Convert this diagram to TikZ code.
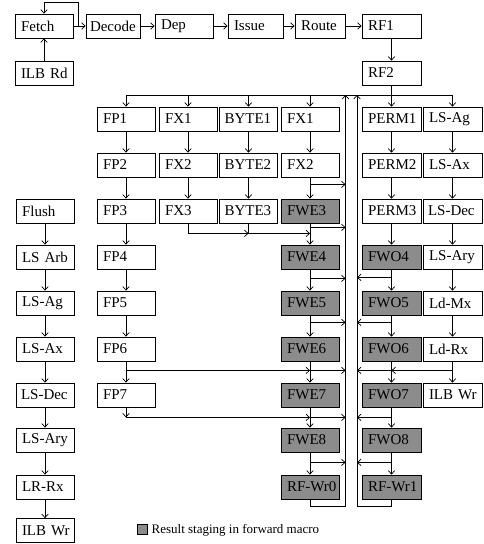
\documentclass[tikz,border=0pt]{standalone}
\usepackage{fontspec}
\setmainfont{Liberation Serif}
\usetikzlibrary{arrows.meta,calc}
\begin{document}
\begin{tikzpicture}[x=1pt,y=-1pt,
  blk/.style={draw, line width=0.8pt, minimum height=24pt, inner xsep=6pt, inner ysep=0pt,
    text width=#1, align=left, font=\fontsize{15}{17}\selectfont,
    execute at begin node={\hbox\bgroup}, execute at end node={\egroup}},
  blk/.default=46pt,
  fwd/.style={blk=#1, fill=black!45},
  fwd/.default=46pt,
  ar/.style={-{Straight Barb[length=3.5pt,width=6.5pt]}, line width=0.7pt},
  ln/.style={line width=0.7pt}]
\useasboundingbox (0,0) rectangle (483,544);

% top rows
\node[blk] (fetch) at (44,26) {Fetch};
\node[blk=46pt, inner xsep=4pt] (decode) at (113,26) {Decode};
\node[blk] (dep) at (184,26) {Dep};
\node[blk=43pt] (issue) at (255.5,26) {Issue};
\node[blk=38pt] (route) at (320,26) {Route};
\node[blk=47pt] (rf1) at (391.5,26) {RF1};
\node[blk] (ilbrd) at (44,73) {ILB Rd};
\node[blk=47pt] (rf2) at (391.5,73) {RF2};

% row 2
\node[blk] (fp1) at (126,119) {FP1};
\node[blk] (fx1) at (188,119) {FX1};
\node[blk, inner xsep=5pt, text width=48pt] (byte1) at (248.5,119) {BYTE1};
\node[blk] (fxb1) at (310,119) {FX1};
\node[blk=47pt] (perm1) at (391.5,119) {PERM1};
\node[blk=47pt] (lsag) at (452.5,119) {LS-Ag};
% row 3
\node[blk] (fp2) at (126,165) {FP2};
\node[blk] (fx2) at (188,165) {FX2};
\node[blk, inner xsep=5pt, text width=48pt] (byte2) at (248.5,165) {BYTE2};
\node[blk] (fxb2) at (310,165) {FX2};
\node[blk=47pt] (perm2) at (391.5,165) {PERM2};
\node[blk=47pt] (lsax) at (452.5,165) {LS-Ax};
% row 4
\node[blk] (flush) at (45,211) {Flush};
\node[blk] (fp3) at (126,211) {FP3};
\node[blk] (fx3) at (188,211) {FX3};
\node[blk, inner xsep=5pt, text width=48pt] (byte3) at (248.5,211) {BYTE3};
\node[fwd] (fwe3) at (310,211) {FWE3};
\node[blk=47pt] (perm3) at (391.5,211) {PERM3};
\node[blk=47pt, inner xsep=5pt, text width=49pt] (lsdec) at (452.5,211) {LS-Dec};
% row 5
\node[blk] (lsarb) at (45,257) {LS Arb};
\node[blk] (fp4) at (126,257) {FP4};
\node[fwd] (fwe4) at (310,257) {FWE4};
\node[fwd=47pt] (fwo4) at (391.5,257) {FWO4};
\node[blk=47pt] (lsary) at (452.5,257) {LS-Ary};
% row 6
\node[blk] (lsagL) at (45,303) {LS-Ag};
\node[blk] (fp5) at (126,303) {FP5};
\node[fwd] (fwe5) at (310,303) {FWE5};
\node[fwd=47pt] (fwo5) at (391.5,303) {FWO5};
\node[blk=47pt] (ldmx) at (452.5,303) {Ld-Mx};
% row 7
\node[blk] (lsaxL) at (45,349) {LS-Ax};
\node[blk] (fp6) at (126,349) {FP6};
\node[fwd] (fwe6) at (310,349) {FWE6};
\node[fwd=47pt] (fwo6) at (391.5,349) {FWO6};
\node[blk=47pt] (ldrx) at (452.5,349) {Ld-Rx};
% row 8
\node[blk, inner xsep=5pt, text width=48pt] (lsdecL) at (45,395) {LS-Dec};
\node[blk] (fp7) at (126,395) {FP7};
\node[fwd] (fwe7) at (310,395) {FWE7};
\node[fwd=47pt] (fwo7) at (391.5,395) {FWO7};
\node[blk=47pt] (ilbwr) at (452.5,395) {ILB Wr};
% row 9
\node[blk] (lsaryL) at (45,440) {LS-Ary};
\node[fwd] (fwe8) at (310,440) {FWE8};
\node[fwd=47pt] (fwo8) at (391.5,440) {FWO8};
% row 10
\node[blk] (lrrx) at (45,487) {LR-Rx};
\node[fwd] (rfwr0) at (310,487) {RF-Wr0};
\node[fwd=47pt] (rfwr1) at (391.5,487) {RF-Wr1};
% row 11
\node[blk] (ilbwrL) at (45,530.5) {ILB Wr};

% legend
\node[draw, fill=black!45, line width=0.6pt, minimum size=10.5pt, inner sep=0pt] (legbox) at (142.5,529.5) {};
\node[anchor=west, inner xsep=3pt, font=\fontsize{13}{15}\selectfont] (legtxt) at (148.5,530) {Result staging in forward macro};

% helper coordinates
\coordinate (bus) at (0,95);
\coordinate (bot) at (0,506);
\coordinate (xL) at (345.5,0);
\coordinate (xR) at (357,0);

% top chain
\coordinate (lp) at (78,26);
\coordinate (lptop) at (78,2.5);
\draw[ar] (fetch) -- (decode);
\draw[ar] (lp) -- (lptop) -| (fetch.north);
\draw[ar] (ilbrd) -- (fetch);
\draw[ar] (decode) -- (dep);
\draw[ar] (dep) -- (issue);
\draw[ar] (issue) -- (route);
\draw[ar] (route) -- (rf1);
\draw[ar] (rf1) -- (rf2);
\draw[ar] (rf2) -- (perm1);

% distribution bus
\draw[ln] (fp1.north |- bus) -- (lsag.north |- bus);
\foreach \n in {fp1,fx1,byte1,fxb1,lsag}
  \draw[ar] (\n.north |- bus) -- (\n.north);

% column chains
\foreach \a/\b in {fp1/fp2,fp2/fp3,fp3/fp4,fp4/fp5,fp5/fp6,fp6/fp7,
  fx1/fx2,fx2/fx3,byte1/byte2,byte2/byte3,
  fxb1/fxb2,fxb2/fwe3,fwe3/fwe4,fwe4/fwe5,fwe5/fwe6,fwe6/fwe7,fwe7/fwe8,fwe8/rfwr0,
  perm1/perm2,perm2/perm3,perm3/fwo4,fwo4/fwo5,fwo5/fwo6,fwo6/fwo7,fwo7/fwo8,fwo8/rfwr1,
  lsag/lsax,lsax/lsdec,lsdec/lsary,lsary/ldmx,ldmx/ldrx,ldrx/ilbwr,
  flush/lsarb,lsarb/lsagL,lsagL/lsaxL,lsaxL/lsdecL,lsdecL/lsaryL,lsaryL/lrrx,lrrx/ilbwrL}
  \draw[ar] (\a) -- (\b);

% forward outputs, even side
\coordinate (e2) at ($(fxb2.south)+(0,7)$);
\coordinate (e3) at ($(fwe3.south)+(0,4)$);
\coordinate (e4) at ($(fwe4.south)+(0,9)$);
\coordinate (e5) at ($(fwe5.south)+(0,7)$);
\coordinate (e6) at ($(fwe6.south)+(0,9)$);
\coordinate (e7) at ($(fwe7.south)+(0,10)$);
\coordinate (e8) at ($(fwe8.south)+(0,10)$);
\foreach \c in {e2,e3,e4,e5,e6,e7,e8}
  \draw[ar] (\c) -- (\c -| xL);

% forward outputs, odd side
\coordinate (o4) at ($(fwo4.south)+(0,8)$);
\coordinate (o5) at ($(fwo5.south)+(0,7)$);
\coordinate (o6) at ($(fwo6.south)+(0,9)$);
\coordinate (o7) at ($(fwo7.south)+(0,10)$);
\coordinate (o8) at ($(fwo8.south)+(0,10)$);
\foreach \c in {o4,o5,o6,o7,o8}
  \draw[ar] (\c) -- (\c -| xR);

% merges into FWE / FWO columns
\coordinate (m1) at ($(fx3.south)+(0,10)$);
\draw[ar] (fx3.south) -- (m1) -- (m1 -| byte3.south);
\draw[ar] (byte3.south) -- (byte3.south |- m1) -- (m1 -| fwe3.south);
\coordinate (m2) at ($(fp6.south)+(0,9)$);
\draw[ar] (m2) -- (m2 -| fwe6.south);
\coordinate (m3) at ($(fp7.south)+(0,10)$);
\draw[ar] (fp7.south) -- (m3);
\draw[ar] (m3) -- (m3 -| fwe7.south);
\coordinate (m4) at ($(ldrx.south)+(0,9)$);
\draw[ar] (m4) -- (m4 -| fwo6.south);

% write-back feedback
\draw[ar] (rfwr0.south) -- (rfwr0.south |- bot) -- (xL |- bot) -- (xL |- bus);
\draw[ar] (rfwr1.south) -- (rfwr1.south |- bot) -- (xR |- bot) -- (xR |- bus);
\end{tikzpicture}
\end{document}
